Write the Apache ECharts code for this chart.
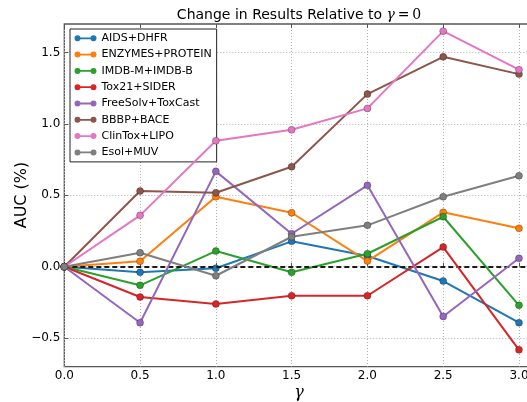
<!DOCTYPE html>
<html>
<head>
<meta charset="utf-8">
<script src="https://cdn.jsdelivr.net/npm/echarts@6/dist/echarts.min.js"></script>
<style>
html,body{margin:0;padding:0;background:#fff;}
#chart{width:527px;height:402px;}
</style>
</head>
<body>
<div id="chart"></div>
<script>
// ---- data ----
const gammas = [0.0, 0.5, 1.0, 1.5, 2.0, 2.5, 3.0];
const xTicks = [0.0, 0.5, 1.0, 1.5, 2.0, 2.5, 3.0];
const yTicks = [-0.5, 0.0, 0.5, 1.0, 1.5];
const seriesNames = ['AIDS+DHFR', 'ENZYMES+PROTEIN', 'IMDB-M+IMDB-B', 'Tox21+SIDER',
  'FreeSolv+ToxCast', 'BBBP+BACE', 'ClinTox+LIPO', 'Esol+MUV'];
const aidsDhfr        = [0, -0.039, -0.011, 0.178, 0.075, -0.100, -0.392];
const enzymesProtein  = [0, 0.038, 0.490, 0.378, 0.040, 0.381, 0.269];
const imdb            = [0, -0.130, 0.110, -0.039, 0.091, 0.350, -0.270];
const tox21Sider      = [0, -0.212, -0.261, -0.203, -0.203, 0.138, -0.582];
const freesolvToxcast = [0, -0.392, 0.668, 0.231, 0.570, -0.348, 0.059];
const bbbpBace        = [0, 0.530, 0.518, 0.700, 1.209, 1.470, 1.349];
const clintoxLipo     = [0, 0.360, 0.882, 0.959, 1.109, 1.650, 1.380];
const esolMuv         = [0, 0.098, -0.063, 0.210, 0.290, 0.490, 0.637];
const seriesValues = [aidsDhfr, enzymesProtein, imdb, tox21Sider, freesolvToxcast, bbbpBace, clintoxLipo, esolMuv];
const colors = ['#1f77b4', '#ff7f0e', '#2ca02c', '#d62728', '#9467bd', '#8c564b', '#e377c2', '#7f7f7f'];

const FONT = 'DejaVu Sans';
const fmt = v => (v < 0 ? '\u2212' : '') + Math.abs(v).toFixed(1);
const legendIcon = 'path://M0,3 A3,3 0 1 1 6,3 A3,3 0 1 1 0,3 Z M16,3 A3,3 0 1 1 22,3 A3,3 0 1 1 16,3 Z M3,2.1 L19,2.1 L19,3.9 L3,3.9 Z';

const series = seriesNames.map((name, i) => ({
  name: name,
  type: 'line',
  data: gammas.map((g, j) => [g, seriesValues[i][j]]),
  symbol: 'circle',
  symbolSize: 7,
  lineStyle: { width: 2, color: colors[i] },
  itemStyle: { color: colors[i], borderColor: 'rgba(0,0,0,0.45)', borderWidth: 0.6 },
  z: 2 + i,
  emphasis: { disabled: true }
}));
series.push({
  name: 'zero',
  type: 'line',
  data: [],
  z: 20,
  markLine: {
    silent: true,
    symbol: ['none', 'none'],
    label: { show: false },
    lineStyle: { color: '#1a1a1a', type: [5, 3], width: 2 },
    data: [{ yAxis: 0 }]
  }
});

const chart = echarts.init(document.getElementById('chart'));
chart.setOption({
  animation: false,
  backgroundColor: '#fff',
  grid: {
    left: 64.3, top: 24, width: 466.8, height: 342.7,
    containLabel: false, outerBoundsMode: 'none',
    show: true, borderColor: '#555', borderWidth: 1.3, backgroundColor: 'transparent'
  },
  xAxis: [{
    type: 'value', min: 0, max: 3.08,
    axisLine: { show: false },
    axisTick: { show: true, inside: true, length: 4, lineStyle: { color: '#555' }, customValues: xTicks },
    axisLabel: { customValues: xTicks, formatter: fmt, color: '#000', fontFamily: FONT, fontSize: 12, margin: 3 },
    splitLine: { show: true, lineStyle: { color: '#b0b0b0', type: [1, 2], width: 1 } }
  }, {
    type: 'value', min: 0, max: 3.08, position: 'top',
    axisLine: { show: false },
    axisTick: { show: true, inside: true, length: 4, lineStyle: { color: '#555' }, customValues: xTicks },
    axisLabel: { show: false },
    splitLine: { show: false }
  }],
  yAxis: {
    type: 'value', min: -0.7, max: 1.7,
    axisLine: { show: false },
    axisTick: { show: true, inside: true, length: 4, lineStyle: { color: '#555' }, customValues: yTicks },
    axisLabel: { customValues: yTicks, formatter: fmt, color: '#000', fontFamily: FONT, fontSize: 12, margin: 4 },
    splitLine: { show: true, lineStyle: { color: '#b0b0b0', type: [1, 2], width: 1 } }
  },
  legend: {
    data: seriesNames.map(n => ({ name: n, icon: legendIcon })),
    orient: 'vertical',
    left: 70, top: 29,
    padding: [3.3, 5, 3.5, 4.5],
    itemWidth: 22, itemHeight: 6, itemGap: 4.3, itemTextGap: 9.5,
    itemStyle: { borderWidth: 0 },
    backgroundColor: '#fff',
    borderColor: '#222', borderWidth: 1, borderRadius: 0,
    textStyle: { fontFamily: FONT, fontSize: 11, color: '#000', lineHeight: 12 },
    selectedMode: false
  },
  graphic: [
    {
      type: 'text', x: 299, y: 15, z: 100,
      style: {
        text: '{a|Change in Results Relative to }{g|\u03b3}{b|\u2009=\u20090}',
        align: 'center', verticalAlign: 'middle',
        rich: {
          a: { fontFamily: FONT, fontSize: 14, fill: '#000' },
          g: { fontFamily: 'DejaVu Serif', fontStyle: 'italic', fontSize: 14, fill: '#000' },
          b: { fontFamily: 'DejaVu Serif', fontSize: 14, fill: '#000' }
        }
      }
    },
    {
      type: 'text', x: 21.5, y: 195, rotation: Math.PI / 2, z: 100,
      style: { text: 'AUC (%)', fontFamily: FONT, fontSize: 16, fill: '#000', align: 'center', verticalAlign: 'middle' }
    },
    {
      type: 'text', x: 299, y: 393, z: 100,
      style: { text: '\u03b3', fontFamily: 'DejaVu Serif', fontStyle: 'italic', fontSize: 16, fill: '#000', align: 'center', verticalAlign: 'middle' }
    }
  ],
  series: series
});
</script>
</body>
</html>
